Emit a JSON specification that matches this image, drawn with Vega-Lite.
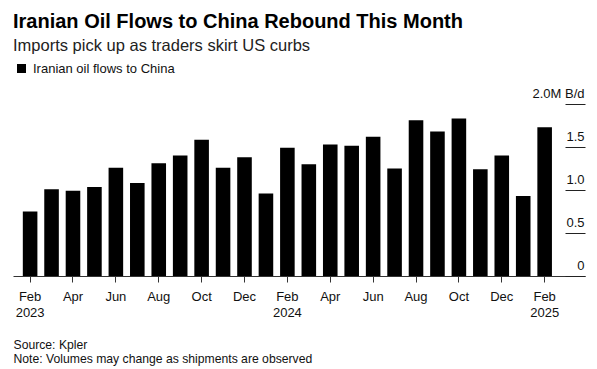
{
  "$schema": "https://vega.github.io/schema/vega-lite/v6.json",
  "width": 572,
  "height": 172,
  "autosize": "none",
  "padding": {"left": 13, "top": 104, "right": 12, "bottom": 93},
  "background": "white",
  "title": {
    "text": "Iranian Oil Flows to China Rebound This Month",
    "subtitle": "Imports pick up as traders skirt US curbs",
    "anchor": "start",
    "frame": "group",
    "font": "Liberation Sans",
    "fontSize": 20,
    "fontWeight": "bold",
    "color": "#000000",
    "subtitleFont": "Liberation Sans",
    "subtitleFontSize": 16.5,
    "subtitleColor": "#222222",
    "subtitlePadding": 6,
    "offset": 8
  },
  "data": {
    "values": [
      {"month": "2023-02", "flow": 0.75, "series": "Iranian oil flows to China"},
      {"month": "2023-03", "flow": 1.01, "series": "Iranian oil flows to China"},
      {"month": "2023-04", "flow": 0.99, "series": "Iranian oil flows to China"},
      {"month": "2023-05", "flow": 1.035, "series": "Iranian oil flows to China"},
      {"month": "2023-06", "flow": 1.26, "series": "Iranian oil flows to China"},
      {"month": "2023-07", "flow": 1.08, "series": "Iranian oil flows to China"},
      {"month": "2023-08", "flow": 1.31, "series": "Iranian oil flows to China"},
      {"month": "2023-09", "flow": 1.40, "series": "Iranian oil flows to China"},
      {"month": "2023-10", "flow": 1.585, "series": "Iranian oil flows to China"},
      {"month": "2023-11", "flow": 1.26, "series": "Iranian oil flows to China"},
      {"month": "2023-12", "flow": 1.38, "series": "Iranian oil flows to China"},
      {"month": "2024-01", "flow": 0.96, "series": "Iranian oil flows to China"},
      {"month": "2024-02", "flow": 1.49, "series": "Iranian oil flows to China"},
      {"month": "2024-03", "flow": 1.30, "series": "Iranian oil flows to China"},
      {"month": "2024-04", "flow": 1.53, "series": "Iranian oil flows to China"},
      {"month": "2024-05", "flow": 1.515, "series": "Iranian oil flows to China"},
      {"month": "2024-06", "flow": 1.62, "series": "Iranian oil flows to China"},
      {"month": "2024-07", "flow": 1.25, "series": "Iranian oil flows to China"},
      {"month": "2024-08", "flow": 1.81, "series": "Iranian oil flows to China"},
      {"month": "2024-09", "flow": 1.68, "series": "Iranian oil flows to China"},
      {"month": "2024-10", "flow": 1.83, "series": "Iranian oil flows to China"},
      {"month": "2024-11", "flow": 1.24, "series": "Iranian oil flows to China"},
      {"month": "2024-12", "flow": 1.40, "series": "Iranian oil flows to China"},
      {"month": "2025-01", "flow": 0.93, "series": "Iranian oil flows to China"},
      {"month": "2025-02", "flow": 1.73, "series": "Iranian oil flows to China"}
    ]
  },
  "mark": {"type": "bar"},
  "encoding": {
    "x": {
      "field": "month",
      "type": "ordinal",
      "sort": "ascending",
      "scale": {"paddingInner": 0.32, "paddingOuter": 1.51, "align": 0.229},
      "axis": {
        "values": ["2023-02", "2023-04", "2023-06", "2023-08", "2023-10", "2023-12", "2024-02", "2024-04", "2024-06", "2024-08", "2024-10", "2024-12", "2025-02"],
        "labelExpr": "slice(datum.value, 5) == '02' ? [utcFormat(toDate(datum.value + '-01'), '%b'), slice(datum.value, 0, 4)] : utcFormat(toDate(datum.value + '-01'), '%b')",
        "labelAngle": 0,
        "labelFont": "Liberation Sans",
        "labelFontSize": 13,
        "labelColor": "#111111",
        "labelLineHeight": 16,
        "labelPadding": 8,
        "labelBaseline": "top",
        "labelOverlap": false,
        "labelFlush": false,
        "domainColor": "#333333",
        "domainWidth": 1,
        "tickColor": "#333333",
        "tickSize": 6,
        "tickWidth": 1,
        "title": ["Source: Kpler", "Note: Volumes may change as shipments are observed"],
        "titleFont": "Liberation Sans",
        "titleFontSize": 12.2,
        "titleFontWeight": "normal",
        "titleColor": "#111111",
        "titleAnchor": "start",
        "titleAlign": "left",
        "titleBaseline": "alphabetic",
        "titleLineHeight": 14,
        "titleX": 0,
        "titleY": 72
      }
    },
    "y": {
      "field": "flow",
      "type": "quantitative",
      "scale": {"domain": [0, 2], "nice": false},
      "axis": {
        "orient": "right",
        "offset": -20,
        "values": [0, 0.5, 1, 1.5, 2],
        "labelExpr": "datum.value == 2 ? '2.0M B/d' : (datum.value == 0 ? '0' : format(datum.value, '.1f'))",
        "domain": false,
        "grid": false,
        "tickSize": 20,
        "tickColor": "#222222",
        "tickWidth": 1,
        "labelAlign": "right",
        "labelBaseline": "alphabetic",
        "labelPadding": -1,
        "labelOffset": -7,
        "labelFont": "Liberation Sans",
        "labelFontSize": 13,
        "labelColor": "#111111",
        "labelOverlap": false,
        "labelFlush": false,
        "labelBound": false,
        "title": null
      }
    },
    "color": {
      "field": "series",
      "type": "nominal",
      "scale": {"range": ["#000000"]},
      "legend": {
        "orient": "none",
        "legendX": 2,
        "legendY": -42,
        "title": null,
        "symbolType": "square",
        "symbolSize": 81,
        "symbolStrokeWidth": 0,
        "labelFont": "Liberation Sans",
        "labelFontSize": 13,
        "labelColor": "#111111",
        "labelOffset": 5,
        "padding": 0
      }
    }
  },
  "config": {"view": {"stroke": null}}
}
